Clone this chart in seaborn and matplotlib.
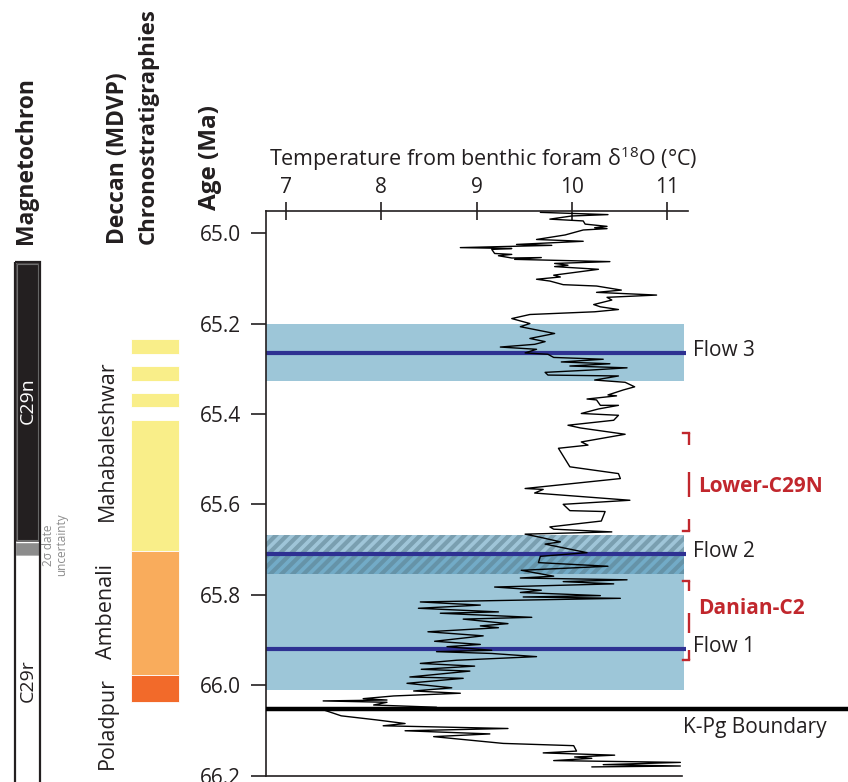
import matplotlib
matplotlib.use("Agg")
import matplotlib.pyplot as plt
import matplotlib.transforms as mtransforms
import seaborn as sns

# ---------------- data ----------------
temp = [9.67, 10.38, 10.00, 9.77, 10.12, 10.14, 10.37, 10.24, 10.37, 10.12,
        9.93, 9.63, 10.12, 9.42, 9.79, 8.83, 9.37, 9.16, 9.19, 9.37,
        9.23, 9.37, 9.68, 9.40, 10.40, 9.82, 9.96, 9.82, 10.28, 9.81,
        9.88, 9.63, 9.77, 9.91, 10.26, 10.52, 10.26, 10.89, 10.37, 10.42,
        10.23, 10.30, 10.49, 10.24, 9.56, 9.37, 9.56, 9.46,
        9.82, 9.56, 9.72, 9.61, 9.25, 9.63, 9.51, 9.75, 9.81, 10.33,
        9.89, 10.40, 9.98, 10.58, 10.19, 9.72, 9.75, 10.49, 10.24, 10.56,
        10.66, 10.54, 10.38, 10.47, 10.16, 10.26, 10.30, 10.49, 10.28, 10.10,
        10.49, 10.44, 9.96, 10.09, 10.56, 10.10,
        10.17, 9.86, 9.98, 10.49, 10.51, 9.51, 9.70, 9.61, 10.61, 9.91,
        9.98, 10.35, 10.31, 9.77, 9.81, 10.42, 9.51, 9.67, 9.88, 9.72,
        10.16, 9.67,
        9.65, 10.38, 9.47, 9.81, 9.46, 10.58, 9.91, 10.44, 9.19, 9.68,
        9.46, 10.30, 9.49, 10.51, 8.41, 9.04, 8.39, 9.23, 8.62, 9.58,
        8.86, 9.33, 9.04, 9.23, 8.49, 9.07, 8.56, 9.04, 8.69, 9.16,
        8.58, 9.16, 9.63, 8.79, 8.41, 8.98, 8.42,
        8.93, 8.30, 8.86, 8.27, 8.74, 8.34, 8.83, 8.13, 7.81, 8.06,
        7.39, 8.06, 7.92, 8.58, 7.41, 7.58, 7.95, 8.25, 8.02, 9.33,
        8.25, 9.14, 8.55, 9.28, 10.02, 10.05, 9.70, 10.45, 10.03, 10.21,
        9.81, 11.14, 10.33, 11.14, 10.21]
age = [64.954, 64.959, 64.962, 64.969, 64.973, 64.980, 64.985, 64.988, 64.990, 64.993,
       65.004, 65.014, 65.018, 65.025, 65.027, 65.032, 65.034, 65.036, 65.045, 65.047,
       65.050, 65.055, 65.054, 65.058, 65.063, 65.067, 65.071, 65.074, 65.080, 65.093,
       65.097, 65.102, 65.106, 65.114, 65.117, 65.126, 65.131, 65.137, 65.142, 65.148,
       65.158, 65.163, 65.169, 65.174, 65.180, 65.189, 65.200, 65.207,
       65.222, 65.233, 65.240, 65.246, 65.252, 65.257, 65.265, 65.268, 65.275, 65.279,
       65.285, 65.289, 65.294, 65.298, 65.303, 65.308, 65.314, 65.316, 65.325, 65.330,
       65.340, 65.347, 65.358, 65.360, 65.367, 65.369, 65.381, 65.381, 65.389, 65.399,
       65.403, 65.414, 65.425, 65.431, 65.445, 65.462,
       65.469, 65.476, 65.517, 65.532, 65.543, 65.565, 65.567, 65.575, 65.591, 65.600,
       65.614, 65.616, 65.637, 65.650, 65.655, 65.661, 65.666, 65.673, 65.683, 65.688,
       65.707, 65.715,
       65.729, 65.737, 65.746, 65.759, 65.763, 65.767, 65.771, 65.776, 65.783, 65.790,
       65.795, 65.802, 65.805, 65.808, 65.816, 65.823, 65.830, 65.838, 65.841, 65.850,
       65.854, 65.864, 65.869, 65.873, 65.882, 65.891, 65.903, 65.910, 65.915, 65.923,
       65.926, 65.930, 65.937, 65.945, 65.952, 65.958, 65.965,
       65.969, 65.982, 65.985, 65.996, 66.006, 66.013, 66.018, 66.024, 66.030, 66.033,
       66.035, 66.038, 66.044, 66.049, 66.056, 66.068, 66.077, 66.085, 66.090, 66.096,
       66.101, 66.108, 66.114, 66.129, 66.134, 66.146, 66.150, 66.155, 66.159, 66.162,
       66.167, 66.171, 66.176, 66.179, 66.181]

temp_ticks = [7, 8, 9, 10, 11]
age_ticks = [65.0, 65.2, 65.4, 65.6, 65.8, 66.0, 66.2]

flow_names = ["Flow 3", "Flow 2", "Flow 1"]
flow_ages = [65.265, 65.71, 65.92]
flow_band_top = [65.201, 65.668, 65.714]
flow_band_bottom = [65.327, 65.754, 66.010]
flow_hatched = [False, True, False]

kpg_age = 66.053
kpg_label = "K-Pg Boundary"

interval_names = ["Lower-C29N", "Danian-C2"]
interval_top = [65.4425, 65.770]
interval_bottom = [65.659, 65.945]
interval_label_age = [65.56, 65.83]

deccan_names = ["Mahabaleshwar", "Ambenali", "Poladpur"]
deccan_label_age = [65.46, 65.838, 66.084]
deccan_seg_top = [65.2345, 65.294, 65.354, 65.414, 65.7035, 65.978]
deccan_seg_bottom = [65.268, 65.327, 65.385, 65.7035, 65.978, 66.038]
deccan_seg_formation = ["Mahabaleshwar", "Mahabaleshwar", "Mahabaleshwar",
                        "Mahabaleshwar", "Ambenali", "Poladpur"]

chron_names = ["C29n", "C29r"]
chron_top = [65.064, 65.715]
chron_bottom = [65.684, 66.25]
chron_label_age = [65.37, 65.99]
uncert_top, uncert_bottom = 65.684, 65.715
uncert_label = "2\u03c3 date\nuncertainty"

# ---------------- style ----------------
sns.set_style("white")
plt.rcParams["font.family"] = ["Open Sans", "DejaVu Sans"]
plt.rcParams["mathtext.fontset"] = "custom"
plt.rcParams["mathtext.rm"] = "Open Sans"
plt.rcParams["hatch.linewidth"] = 3.0
TXT = "#231F20"
BAND = "#9DC6D8"
FLOWLINE = "#2E3192"
RED = "#C1272D"
deccan_colors = {"Mahabaleshwar": "#F9EE89", "Ambenali": "#F9AC5C", "Poladpur": "#F26A2A"}

W, H = 848, 782
fig = plt.figure(figsize=(W / 100, H / 100), dpi=100)


def fx(p):
    return p / W


def fy(p):
    return 1 - p / H


y_top_px, y_bot_px = 211, 775.5
ax_b = fy(y_bot_px)
ax_h = (y_bot_px - y_top_px) / H
XLIM = (6.79, 11.22)
YLIM = (66.2, 64.951)
BAND_RIGHT = 11.175

ax = fig.add_axes([fx(266), ax_b, (688 - 266) / W, ax_h])
ax.set_xlim(*XLIM)
ax.set_ylim(*YLIM)
band_frac = (BAND_RIGHT - XLIM[0]) / (XLIM[1] - XLIM[0])

# bands
for name, a, t, b, h in zip(flow_names, flow_ages, flow_band_top, flow_band_bottom, flow_hatched):
    if not h:
        ax.axhspan(t, b, xmin=0, xmax=band_frac, facecolor=BAND, edgecolor="none", zorder=1)
for name, a, t, b, h in zip(flow_names, flow_ages, flow_band_top, flow_band_bottom, flow_hatched):
    if h:
        ax.axhspan(t, b, xmin=0, xmax=band_frac, facecolor=(80 / 255, 150 / 255, 185 / 255, 0.55),
                   edgecolor=(0.36, 0.50, 0.56, 0.55), hatch="///", linewidth=0, zorder=1.5)

# flow lines
ax.hlines(flow_ages, XLIM[0], BAND_RIGHT + 0.02, color=FLOWLINE, lw=3, zorder=2)

# temperature curve
sns.lineplot(x=temp, y=age, sort=False, estimator=None, color="black",
             linewidth=1.0, ax=ax, zorder=4)

# K-Pg boundary
ax.hlines(kpg_age, XLIM[0], 12.95, color="black", lw=3.2, clip_on=False, zorder=5)
ax.text(11.17, 66.093, kpg_label, fontsize=15, color=TXT, ha="left", va="center", clip_on=False)

for name, a in zip(flow_names, flow_ages):
    ax.text(11.27, a - 0.005, name, fontsize=15, color=TXT, ha="left", va="center", clip_on=False)

# red interval brackets
bx = 11.23
for name, t, b, la in zip(interval_names, interval_top, interval_bottom, interval_label_age):
    L = b - t
    for f0, f1 in [(0.0, 0.125), (0.40, 0.65), (0.875, 1.0)]:
        ax.plot([bx, bx], [t + f0 * L, t + f1 * L], color=RED, lw=1.7, clip_on=False,
                solid_capstyle="butt")
    ax.plot([11.17, bx], [t, t], color=RED, lw=1.7, clip_on=False, solid_capstyle="projecting")
    ax.plot([11.17, bx], [b, b], color=RED, lw=1.7, clip_on=False, solid_capstyle="projecting")
    ax.text(11.33, la, name, fontsize=15, fontweight="bold", color=RED,
            ha="left", va="center", clip_on=False)

# axes styling
ax.xaxis.tick_top()
ax.set_xticks(temp_ticks)
ax.set_xticklabels([str(t) for t in temp_ticks])
ax.set_yticks(age_ticks)
ax.set_yticklabels([f"{v:.1f}" for v in age_ticks])
ax.tick_params(axis="x", direction="inout", length=13, width=1.2, labelsize=15,
               pad=3, colors=TXT, top=True, bottom=False)
ax.tick_params(axis="y", direction="out", length=11, width=1.2, labelsize=15,
               pad=7, colors=TXT, left=True)
for s in ["left", "top", "bottom"]:
    ax.spines[s].set_linewidth(1.2)
    ax.spines[s].set_color(TXT)
ax.spines["right"].set_visible(False)
ax.spines["bottom"].set_bounds(XLIM[0], 11.16)
ax.xaxis.set_label_position("top")
ax.set_xlabel("Temperature from benthic foram \u03b4$^{\\mathregular{18}}$O (\u00b0C)",
              fontsize=15.5, color=TXT)
ax.xaxis.set_label_coords(0.515, 1.079)
ax.set_ylabel("")

# ---------------- magnetochron column ----------------
mag = fig.add_axes([fx(15), ax_b, 25 / W, ax_h])
mag.set_xlim(0, 1)
mag.set_ylim(*YLIM)
mag.axis("off")
mag.bar(0.5, chron_bottom[0] - chron_top[0], bottom=chron_top[0], width=1,
        color=TXT, clip_on=False, zorder=1)
mag.bar(0.5, chron_bottom[0] - chron_top[0] - 0.008, bottom=chron_top[0] + 0.004, width=0.84,
        facecolor="none", edgecolor="#6E6E6E", lw=0.8, clip_on=False, zorder=2)
mag.bar(0.5, uncert_bottom - uncert_top, bottom=uncert_top, width=1,
        color="#8C8C8C", clip_on=False, zorder=1)
mag.bar(0.5, chron_bottom[1] - chron_top[1], bottom=chron_top[1], width=1,
        color="white", clip_on=False, zorder=1)
mag.bar(0.5, chron_bottom[1] - chron_top[0], bottom=chron_top[0], width=1,
        facecolor="none", edgecolor=TXT, lw=1.6, clip_on=False, zorder=3)
mag.text(0.5, chron_label_age[0], chron_names[0], rotation=90, color="white", fontsize=14,
         ha="center", va="center", clip_on=False, zorder=4)
mag.text(0.5, chron_label_age[1], chron_names[1], rotation=90, color=TXT, fontsize=14,
         ha="center", va="center", clip_on=False, zorder=4)
trm = mtransforms.blended_transform_factory(mag.transAxes, mag.transData)
mag.text(1.6, (uncert_top + uncert_bottom) / 2 - 0.01, uncert_label, rotation=90,
         color="#8C8C8C", fontsize=8.5, ha="center", va="center", multialignment="center",
         linespacing=0.95, transform=trm, clip_on=False)

# ---------------- Deccan column ----------------
dec = fig.add_axes([fx(131), ax_b, 48 / W, ax_h])
dec.set_xlim(0, 1)
dec.set_ylim(*YLIM)
dec.axis("off")
for t, b, f in zip(deccan_seg_top, deccan_seg_bottom, deccan_seg_formation):
    dec.bar(0.5, b - t, bottom=t, width=1, color=deccan_colors[f],
            edgecolor="white", lw=0.6, clip_on=False)
trd = mtransforms.blended_transform_factory(dec.transAxes, dec.transData)
for n, a in zip(deccan_names, deccan_label_age):
    dec.text(-0.5, a, n, rotation=90, fontsize=15.5, color=TXT, ha="center", va="center",
             transform=trd, clip_on=False)

# ---------------- column titles ----------------
fig.text(fx(26), fy(244), "Magnetochron", rotation=90, fontsize=16.5, fontweight="bold",
         color=TXT, ha="center", va="bottom")
fig.text(fx(118), fy(244), "Deccan (MDVP)", rotation=90, fontsize=16.5, fontweight="bold",
         color=TXT, ha="center", va="bottom")
fig.text(fx(148), fy(244), "Chronostratigraphies", rotation=90, fontsize=16,
         fontweight="bold", color=TXT, ha="center", va="bottom")
fig.text(fx(210), fy(210), "Age (Ma)", rotation=90, fontsize=17.5, fontweight="bold",
         color=TXT, ha="center", va="bottom")

fig.savefig("out.png", dpi=100, facecolor="white")
